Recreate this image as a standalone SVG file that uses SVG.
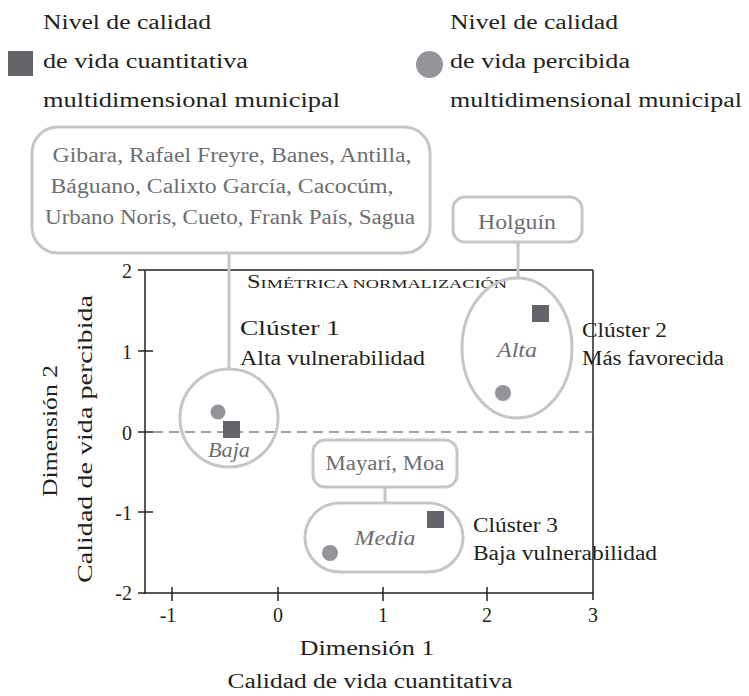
<svg xmlns="http://www.w3.org/2000/svg" width="749" height="696" viewBox="0 0 749 696">
<style>
.t{font-family:'Liberation Serif','DejaVu Serif',serif;font-size:20px;fill:#231f20}
.g{fill:#6d6e71}
.i{font-style:italic;fill:#6d6e71}
.box{fill:none;stroke:#c6c6c8;stroke-width:3}
.con{stroke:#c6c6c8;stroke-width:3;fill:none}
.ax{stroke:#231f20;stroke-width:1.5;fill:none}
.sq{fill:#646468}
.dot{fill:#939598}
</style>
<rect width="749" height="696" fill="#ffffff"/>

<g id="legend-quant">
<rect class="sq" x="8" y="51" width="25" height="25"/>
<text class="t" x="43" y="29" textLength="168" lengthAdjust="spacingAndGlyphs">Nivel de calidad</text>
<text class="t" x="43" y="68" textLength="205" lengthAdjust="spacingAndGlyphs">de vida cuantitativa</text>
<text class="t" x="43" y="107" textLength="297" lengthAdjust="spacingAndGlyphs">multidimensional municipal</text>
</g>
<g id="legend-perc">
<circle class="dot" cx="429.5" cy="64.5" r="13.5"/>
<text class="t" x="450" y="29" textLength="168" lengthAdjust="spacingAndGlyphs">Nivel de calidad</text>
<text class="t" x="450" y="68" textLength="180" lengthAdjust="spacingAndGlyphs">de vida percibida</text>
<text class="t" x="450" y="107" textLength="292" lengthAdjust="spacingAndGlyphs">multidimensional municipal</text>
</g>

<g id="axes">
<line class="ax" x1="145" y1="270" x2="145" y2="594"/>
<line class="ax" x1="138" y1="593" x2="593" y2="593"/>
<line class="ax" x1="145" y1="270" x2="593" y2="270"/>
<line class="ax" x1="593" y1="270" x2="593" y2="600"/>
<line class="ax" x1="138" y1="270" x2="145" y2="270"/>
<line class="ax" x1="138" y1="351" x2="153" y2="351"/>
<line class="ax" x1="138" y1="432" x2="153" y2="432"/>
<line class="ax" x1="138" y1="512" x2="153" y2="512"/>
<line class="ax" x1="172" y1="587" x2="172" y2="601"/>
<line class="ax" x1="278" y1="587" x2="278" y2="601"/>
<line class="ax" x1="383" y1="587" x2="383" y2="601"/>
<line class="ax" x1="487" y1="587" x2="487" y2="601"/>
<line x1="153" y1="432" x2="593" y2="432" stroke="#808080" stroke-width="1.5" stroke-dasharray="10 6"/>
<g class="t" text-anchor="end">
<text x="132" y="278">2</text>
<text x="132" y="359">1</text>
<text x="132" y="440">0</text>
<text x="132" y="520">-1</text>
<text x="132" y="600">-2</text>
</g>
<g class="t" text-anchor="middle">
<text x="168" y="622">-1</text>
<text x="278" y="622">0</text>
<text x="383" y="622">1</text>
<text x="487" y="622">2</text>
<text x="593" y="622">3</text>
<text x="367" y="655" textLength="135" lengthAdjust="spacingAndGlyphs">Dimensión 1</text>
<text x="370" y="688" textLength="285" lengthAdjust="spacingAndGlyphs">Calidad de vida cuantitativa</text>
<text transform="translate(57,431) rotate(-90)" textLength="132" lengthAdjust="spacingAndGlyphs">Dimensión 2</text>
<text transform="translate(92,439) rotate(-90)" textLength="288" lengthAdjust="spacingAndGlyphs">Calidad de vida percibida</text>
</g>
<text class="t" x="247" y="288" textLength="260" lengthAdjust="spacingAndGlyphs"><tspan font-size="18">S</tspan><tspan font-size="13.5">IMÉTRICA NORMALIZACIÓN</tspan></text>
</g>

<g id="connectors">
<line class="con" x1="229" y1="253" x2="229" y2="368"/>
<line class="con" x1="518" y1="242" x2="518" y2="278"/>
<line class="con" x1="385" y1="487" x2="385" y2="503"/>
</g>

<g id="box-baja-list">
<rect class="box" x="32" y="127" width="398" height="126" rx="26"/>
<g class="t g" text-anchor="middle">
<text x="232" y="162" textLength="359" lengthAdjust="spacingAndGlyphs">Gibara, Rafael Freyre, Banes, Antilla,</text>
<text x="222" y="193" textLength="343" lengthAdjust="spacingAndGlyphs">Báguano, Calixto García, Cacocúm,</text>
<text x="230" y="224" textLength="370" lengthAdjust="spacingAndGlyphs">Urbano Noris, Cueto, Frank País, Sagua</text>
</g>
</g>

<g id="box-holguin">
<rect class="box" x="453" y="197" width="129" height="45" rx="12"/>
<text class="t g" x="517" y="229" text-anchor="middle" textLength="78" lengthAdjust="spacingAndGlyphs">Holguín</text>
</g>

<g id="box-mayari">
<rect class="box" x="313" y="440" width="144" height="47" rx="12"/>
<text class="t g" x="385" y="470" text-anchor="middle" textLength="119" lengthAdjust="spacingAndGlyphs">Mayarí, Moa</text>
</g>

<g id="cluster1">
<circle class="box" cx="229" cy="418" r="49"/>
<circle class="dot" cx="218" cy="412" r="7.5"/>
<rect class="sq" x="223" y="421" width="17" height="17"/>
<text class="t i" x="229" y="457" text-anchor="middle" textLength="42" lengthAdjust="spacingAndGlyphs">Baja</text>
<text class="t" x="240" y="335" textLength="100" lengthAdjust="spacingAndGlyphs">Clúster 1</text>
<text class="t" x="240" y="365" textLength="185" lengthAdjust="spacingAndGlyphs">Alta vulnerabilidad</text>
</g>

<g id="cluster2">
<ellipse class="box" cx="517" cy="348" rx="55" ry="70"/>
<rect class="sq" x="532" y="305" width="17" height="17"/>
<circle class="dot" cx="503" cy="393" r="8"/>
<text class="t i" x="517" y="357" text-anchor="middle" textLength="40" lengthAdjust="spacingAndGlyphs">Alta</text>
<text class="t" x="582" y="337" textLength="85" lengthAdjust="spacingAndGlyphs">Clúster 2</text>
<text class="t" x="582" y="365" textLength="142" lengthAdjust="spacingAndGlyphs">Más favorecida</text>
</g>

<g id="cluster3">
<rect class="box" x="305" y="503" width="158" height="69" rx="34.5"/>
<rect class="sq" x="427" y="511" width="17" height="17"/>
<circle class="dot" cx="330" cy="553" r="8"/>
<text class="t i" x="385" y="545" text-anchor="middle" textLength="61" lengthAdjust="spacingAndGlyphs">Media</text>
<text class="t" x="473" y="532" textLength="85" lengthAdjust="spacingAndGlyphs">Clúster 3</text>
<text class="t" x="473" y="560" textLength="184" lengthAdjust="spacingAndGlyphs">Baja vulnerabilidad</text>
</g>
</svg>
